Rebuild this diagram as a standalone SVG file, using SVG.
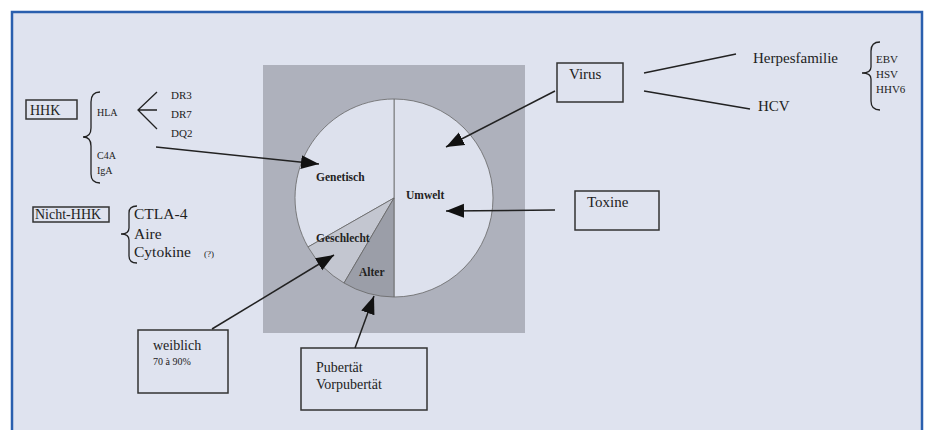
<svg xmlns="http://www.w3.org/2000/svg" width="928" height="430" viewBox="0 0 928 430" font-family="'Liberation Serif','DejaVu Serif',serif">
<style>
text{font-family:"Liberation Serif","DejaVu Serif",serif;fill:#222}
.box{fill:none;stroke:#333;stroke-width:1.5}
.ln{fill:none;stroke:#222;stroke-width:1.5}
.br{fill:none;stroke:#222;stroke-width:1.3}
.b{font-weight:bold;font-size:11.5px}
</style>
<defs>
<marker id="ah" markerUnits="userSpaceOnUse" markerWidth="20" markerHeight="16" refX="18" refY="8" orient="auto">
<path d="M0,1 L18,8 L0,15 Z" fill="#111"/>
</marker>
</defs>
<rect x="0" y="0" width="928" height="430" fill="#fff"/>
<rect x="12" y="12" width="910" height="430" fill="#dfe3ef" stroke="#2a5fae" stroke-width="2.5"/>

<g id="pie">
<rect x="263" y="65" width="262" height="268" fill="#aeb1bc"/>
<path d="M394,198 L394,99 A99,99 0 0 1 394,297 Z" fill="#dde1ed" stroke="#666" stroke-width="0.8"/>
<path d="M394,198 L394,99 A99,99 0 0 0 308,247 Z" fill="#dde1ed" stroke="#666" stroke-width="0.8"/>
<path d="M394,198 L308,247 A99,99 0 0 0 344,283 Z" fill="#c3c6d0" stroke="#666" stroke-width="0.8"/>
<path d="M394,198 L344,283 A99,99 0 0 0 394,297 Z" fill="#9b9ea8" stroke="#666" stroke-width="0.8"/>
<text class="b" x="316" y="181">Genetisch</text>
<text class="b" x="406" y="199">Umwelt</text>
<text class="b" x="316" y="242">Geschlecht</text>
<text class="b" x="359" y="276">Alter</text>
</g>

<g id="hhk">
<rect class="box" x="26" y="100" width="51" height="19" stroke-width="1.2"/>
<text x="30" y="115" font-size="14">HHK</text>
<path class="br" d="M100,92 Q91,92 91,102 L91,128 Q91,137 83,137 Q91,137 91,146 L91,174 Q91,183 100,183"/>
<text x="97" y="116" font-size="10">HLA</text>
<text x="97" y="159" font-size="10">C4A</text>
<text x="97" y="174" font-size="10">IgA</text>
<path class="br" d="M157,92 L138,110 L157,129 M138,110 L157,110"/>
<text x="171" y="99" font-size="11">DR3</text>
<text x="171" y="118" font-size="11">DR7</text>
<text x="171" y="137" font-size="11">DQ2</text>
</g>

<g id="nicht-hhk">
<rect class="box" x="33" y="207" width="76" height="15" stroke-width="1.2"/>
<text x="35" y="219" font-size="14">Nicht-HHK</text>
<path class="br" d="M137,206 Q129,206 129,213 L129,228 Q129,234 121,234 Q129,234 129,240 L129,256 Q129,263 137,263"/>
<text x="134" y="219" font-size="15.5">CTLA-4</text>
<text x="134" y="239" font-size="15.5">Aire</text>
<text x="134" y="257" font-size="15.5">Cytokine</text>
<text x="204" y="257" font-size="9">(?)</text>
</g>

<g id="virus">
<rect class="box" x="557" y="63" width="66" height="39"/>
<text x="569" y="79" font-size="15">Virus</text>
</g>
<g id="herpes">
<text x="753" y="63" font-size="15">Herpesfamilie</text>
<path class="br" d="M880,42 Q871,42 871,51 L871,67 Q871,73 862,73 Q871,73 871,79 L871,101 Q871,110 880,110"/>
<text x="876" y="63" font-size="11">EBV</text>
<text x="876" y="78" font-size="11">HSV</text>
<text x="876" y="93" font-size="11">HHV6</text>
</g>
<g id="hcv">
<text x="758" y="111" font-size="15">HCV</text>
</g>
<g id="toxine">
<rect class="box" x="575" y="191" width="84" height="39"/>
<text x="587" y="207" font-size="15">Toxine</text>
</g>
<g id="weiblich">
<rect class="box" x="138" y="330" width="90" height="63"/>
<text x="153" y="350" font-size="14">weiblich</text>
<text x="153" y="365" font-size="10">70 à 90%</text>
</g>
<g id="pubertaet">
<rect class="box" x="301" y="348" width="126" height="62"/>
<text x="316" y="372" font-size="14">Pubertät</text>
<text x="316" y="389" font-size="14">Vorpubertät</text>
</g>

<g id="connectors">
<line class="ln" x1="644" y1="73" x2="736" y2="54"/>
<line class="ln" x1="644" y1="91" x2="750" y2="109"/>
<line class="ln" x1="156" y1="147" x2="319" y2="164" marker-end="url(#ah)"/>
<line class="ln" x1="555" y1="91" x2="446" y2="147" marker-end="url(#ah)"/>
<line class="ln" x1="555" y1="210" x2="446" y2="211" marker-end="url(#ah)"/>
<line class="ln" x1="212" y1="329" x2="334" y2="255" marker-end="url(#ah)"/>
<line class="ln" x1="355" y1="348" x2="374" y2="296" marker-end="url(#ah)"/>
</g>
</svg>
